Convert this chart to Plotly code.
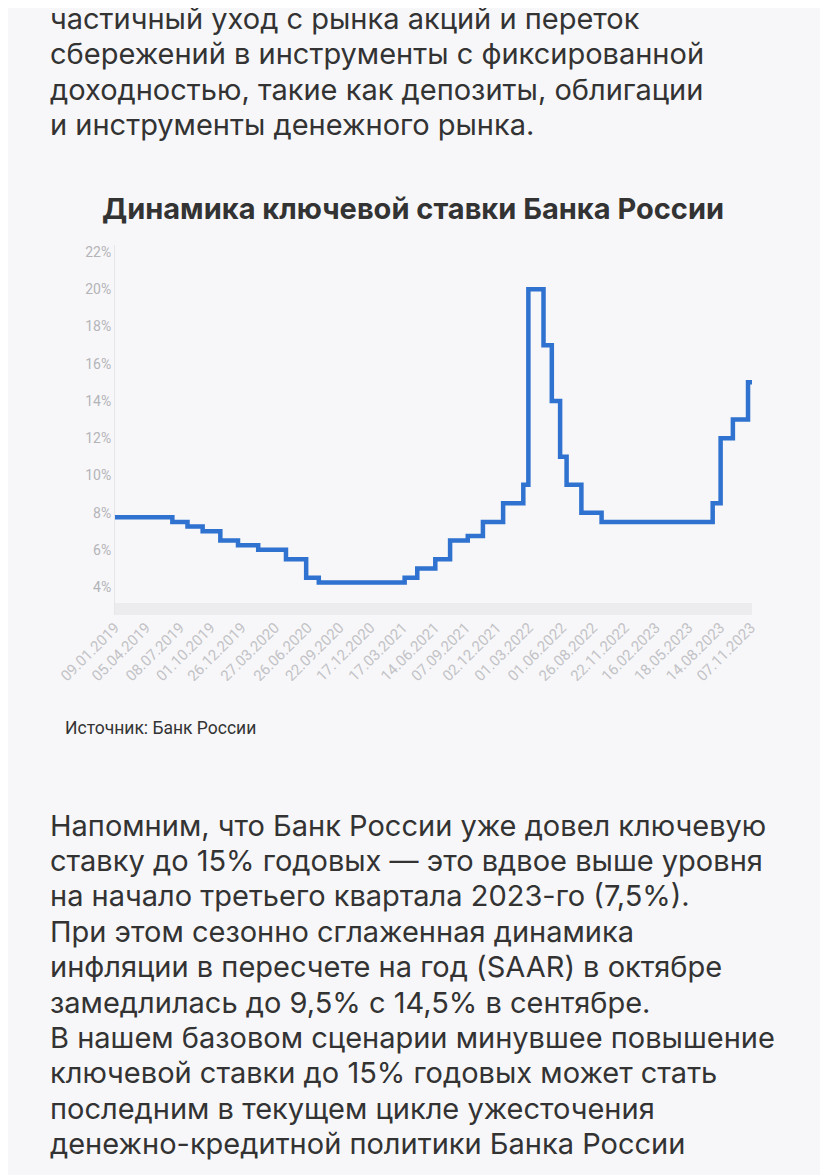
import plotly.graph_objects as go

dates = ["2019-01-09","2019-06-17","2019-07-29","2019-09-09","2019-10-28","2019-12-16","2020-02-10",
         "2020-04-27","2020-06-22","2020-07-27","2021-03-22","2021-04-26","2021-06-15","2021-07-26",
         "2021-09-13","2021-10-25","2021-12-20","2022-02-14","2022-02-28","2022-04-11","2022-05-04",
         "2022-05-27","2022-06-14","2022-07-25","2022-09-19","2023-07-24","2023-08-15","2023-09-18",
         "2023-10-30","2023-11-10"]
rates = [7.75,7.5,7.25,7.0,6.5,6.25,6.0,5.5,4.5,4.25,4.5,5.0,5.5,6.5,6.75,7.5,8.5,9.5,20,17,14,11,9.5,8.0,7.5,8.5,12,13,15,15]

tick_dates = ["2019-01-09","2019-04-05","2019-07-08","2019-10-01","2019-12-26","2020-03-27","2020-06-26",
              "2020-09-22","2020-12-17","2021-03-17","2021-06-14","2021-09-07","2021-12-02","2022-03-01",
              "2022-06-01","2022-08-26","2022-11-22","2023-02-16","2023-05-18","2023-08-14","2023-11-07"]
tick_text = ["09.01.2019","05.04.2019","08.07.2019","01.10.2019","26.12.2019","27.03.2020","26.06.2020",
             "22.09.2020","17.12.2020","17.03.2021","14.06.2021","07.09.2021","02.12.2021","01.03.2022",
             "01.06.2022","26.08.2022","22.11.2022","16.02.2023","18.05.2023","14.08.2023","07.11.2023"]
y_ticks = [4,6,8,10,12,14,16,18,20,22]

top_text = ["частичный уход с рынка акций и переток",
            "сбережений в инструменты с фиксированной",
            "доходностью, такие как депозиты, облигации",
            "и инструменты денежного рынка."]
bottom_text = ["Напомним, что Банк России уже довел ключевую",
               "ставку до 15% годовых — это вдвое выше уровня",
               "на начало третьего квартала 2023-го (7,5%).",
               "При этом сезонно сглаженная динамика",
               "инфляции в пересчете на год (SAAR) в октябре",
               "замедлилась до 9,5% с 14,5% в сентябре.",
               "В нашем базовом сценарии минувшее повышение",
               "ключевой ставки до 15% годовых может стать",
               "последним в текущем цикле ужесточения",
               "денежно-кредитной политики Банка России"]

OFF = 8  # page body margin
W, H = 828 - 2*OFF, 1175 - OFF
BG = "#f7f7f9"
fig = go.Figure(go.Scatter(x=dates, y=rates, mode="lines", line=dict(color="#2f72d0", width=4.5, shape="hv"),
                           hoverinfo="skip"))

def px(p): return (p - OFF) / W
def py(p): return 1 - (p - OFF) / H

fig.update_layout(
    width=W, height=H, margin=dict(l=0, r=0, t=0, b=0),
    paper_bgcolor=BG, plot_bgcolor=BG, showlegend=False,
    xaxis=dict(domain=[px(115), px(752)], type="date", range=["2019-01-09", "2023-11-10"],
               tickvals=tick_dates, ticktext=tick_text, tickangle=-45, showgrid=False, zeroline=False,
               automargin=False,
               tickfont=dict(family="Roboto", size=15, color="#c2c2c6"), ticks="", anchor="y"),
    yaxis=dict(domain=[py(615), py(245)], range=[2.5, 22.38], tickvals=y_ticks, automargin=False,
               ticktext=[f"{v}%" for v in y_ticks], showgrid=False, zeroline=False,
               showline=True, linecolor="#e6e6ea", linewidth=1,
               tickfont=dict(family="Roboto", size=14, color="#b4b4b8"), ticks=""),
)
fig.add_shape(type="rect", xref="x domain", yref="y", x0=0, x1=1, y0=2.5, y1=3.14,
              fillcolor="#ececee", line_width=0, layer="below")

ann = []
for i, t in enumerate(top_text):
    ann.append(dict(text=t, x=px(48), y=py(18 + 35.5*i), xanchor="left", yanchor="middle",
                    font=dict(family="Inter", size=29, color="#333333")))
ann.append(dict(text="<b>Динамика ключевой ставки Банка России</b>", x=px(413), y=py(208),
                xanchor="center", yanchor="middle", font=dict(family="Inter", size=29, color="#333333")))
ann.append(dict(text="Источник: Банк России", x=px(63), y=py(728), xanchor="left", yanchor="middle",
                font=dict(family="Roboto", size=17.5, color="#333333")))
for i, t in enumerate(bottom_text):
    ann.append(dict(text=t, x=px(48), y=py(825 + 35.4*i), xanchor="left", yanchor="middle",
                    font=dict(family="Inter", size=29, color="#333333")))
for a in ann:
    a.update(xref="paper", yref="paper", showarrow=False)
fig.update_layout(annotations=ann)

fig.write_html("out.html")
